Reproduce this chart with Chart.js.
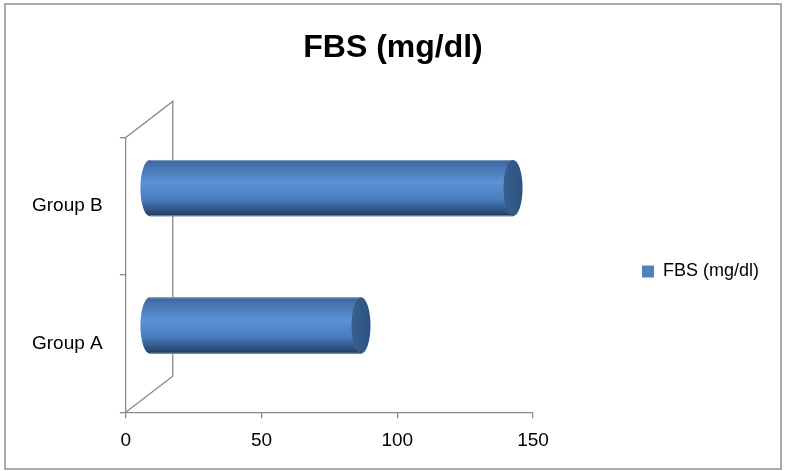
<!DOCTYPE html>
<html><head><meta charset="utf-8">
<script src="https://cdn.jsdelivr.net/npm/chart.js@4/dist/chart.umd.min.js"></script>
<style>html,body{margin:0;padding:0;background:#fff}canvas{display:block}</style>
</head><body>
<canvas id="c" width="786" height="471"></canvas>
<script>
// ---- data ----
const categories = ['Group B', 'Group A'];
const seriesName = 'FBS (mg/dl)';
const fbsValues = [134, 78];
const xTicks = [0, 50, 100, 150];
const chartTitle = 'FBS (mg/dl)';

// ---- style ----
const FONT = "'Liberation Sans', Arial, sans-serif";
const DEPTH_X = 47, DEPTH_Y = 36;
const AXIS_COLOR = '#8a8a8a';
const LEGEND_COLOR = '#4f81bd';
const LEGEND_BOX_X = 642, LEGEND_SHIFT_Y = 35;

const frame3d = {
  id: 'frame3d',
  afterLayout(chart) {
    const lg = chart.legend;
    if (lg) {
      const dx = LEGEND_BOX_X - (lg.left + lg.options.labels.padding);
      lg.left += dx; lg.right += dx;
      lg.top += LEGEND_SHIFT_Y; lg.bottom += LEGEND_SHIFT_Y;
    }
    const tb = chart.titleBlock;
    if (tb) { tb.left = 0; tb.right = chart.width; tb.width = chart.width; }
  },
  beforeDraw(chart) {
    const ctx = chart.ctx, a = chart.chartArea;
    ctx.save();
    ctx.fillStyle = '#fff';
    ctx.fillRect(0, 0, chart.width, chart.height);
    ctx.strokeStyle = '#8e8e8e';
    ctx.lineWidth = 1.5;
    ctx.strokeRect(5, 4, 776, 465);
    ctx.strokeStyle = AXIS_COLOR;
    ctx.lineWidth = 1.3;
    ctx.beginPath();
    ctx.moveTo(a.left, a.top);
    ctx.lineTo(a.left + DEPTH_X, a.top - DEPTH_Y);
    ctx.lineTo(a.left + DEPTH_X, a.bottom - DEPTH_Y);
    ctx.lineTo(a.left, a.bottom);
    ctx.stroke();
    ctx.restore();
  },
  beforeDatasetDraw() { return false; },
  afterDatasetsDraw(chart) {
    const ctx = chart.ctx;
    const meta = chart.getDatasetMeta(0);
    const ox = DEPTH_X / 2, oy = -DEPTH_Y / 2, rx = 9.5;
    ctx.save();
    meta.data.forEach(el => {
      const p = el.getProps(['x', 'y', 'base', 'height'], true);
      const l = p.base + ox, r = p.x + ox, cy = p.y + oy, ry = p.height / 2;
      const t = cy - ry, b = cy + ry;
      const g = ctx.createLinearGradient(0, t, 0, b);
      g.addColorStop(0, '#3b679e');
      g.addColorStop(0.4, '#5b92d4');
      g.addColorStop(0.7, '#4a7dbd');
      g.addColorStop(0.92, '#2c4e7b');
      g.addColorStop(1, '#1f3656');
      ctx.beginPath();
      ctx.moveTo(l, t);
      ctx.lineTo(r, t);
      ctx.lineTo(r, b);
      ctx.lineTo(l, b);
      ctx.ellipse(l, cy, rx, ry, 0, Math.PI / 2, Math.PI * 1.5);
      ctx.closePath();
      ctx.fillStyle = g;
      ctx.fill();
      ctx.strokeStyle = 'rgba(150,172,200,0.8)';
      ctx.lineWidth = 1;
      ctx.beginPath();
      ctx.moveTo(l, t + 0.5); ctx.lineTo(r, t + 0.5);
      ctx.moveTo(l, b - 0.5); ctx.lineTo(r, b - 0.5);
      ctx.stroke();
      const cg = ctx.createLinearGradient(r - rx, 0, r + rx, 0);
      cg.addColorStop(0, '#37608f');
      cg.addColorStop(1, '#2d5382');
      ctx.beginPath();
      ctx.ellipse(r, cy, rx, ry, 0, 0, Math.PI * 2);
      ctx.fillStyle = cg;
      ctx.fill();
    });
    ctx.restore();
  }
};

new Chart(document.getElementById('c'), {
  type: 'bar',
  data: {
    labels: categories,
    datasets: [{
      label: seriesName,
      data: fbsValues,
      backgroundColor: LEGEND_COLOR,
      barPercentage: 0.41,
      categoryPercentage: 1
    }]
  },
  options: {
    indexAxis: 'y',
    responsive: false,
    animation: false,
    devicePixelRatio: 1,
    layout: { padding: { left: 15, right: 116, top: 10, bottom: 8 } },
    scales: {
      x: {
        type: 'linear', min: 0, max: 150,
        afterBuildTicks: s => { s.ticks = xTicks.map(v => ({ value: v })); },
        grid: { display: true, drawOnChartArea: false, drawTicks: true, tickLength: 6, color: AXIS_COLOR, lineWidth: 1.3 },
        border: { display: true, color: AXIS_COLOR, width: 1.3 },
        ticks: { color: '#000', font: { family: FONT, size: 19 }, padding: 11 }
      },
      y: {
        type: 'category',
        grid: { display: true, drawOnChartArea: false, drawTicks: true, tickLength: 6, color: AXIS_COLOR, lineWidth: 1.3, offset: true },
        border: { display: true, color: AXIS_COLOR, width: 1.3 },
        ticks: { color: '#000', font: { family: FONT, size: 19 }, padding: 17 }
      }
    },
    plugins: {
      title: {
        display: true, text: chartTitle, color: '#000',
        font: { family: FONT, size: 32, weight: 'bold' },
        padding: { top: 19, bottom: 70 }
      },
      legend: {
        display: true, position: 'right',
        labels: { boxWidth: 12, boxHeight: 12, padding: 10, color: '#000', font: { family: FONT, size: 18 } }
      },
      tooltip: { enabled: false }
    }
  },
  plugins: [frame3d]
});
</script>
</body></html>
